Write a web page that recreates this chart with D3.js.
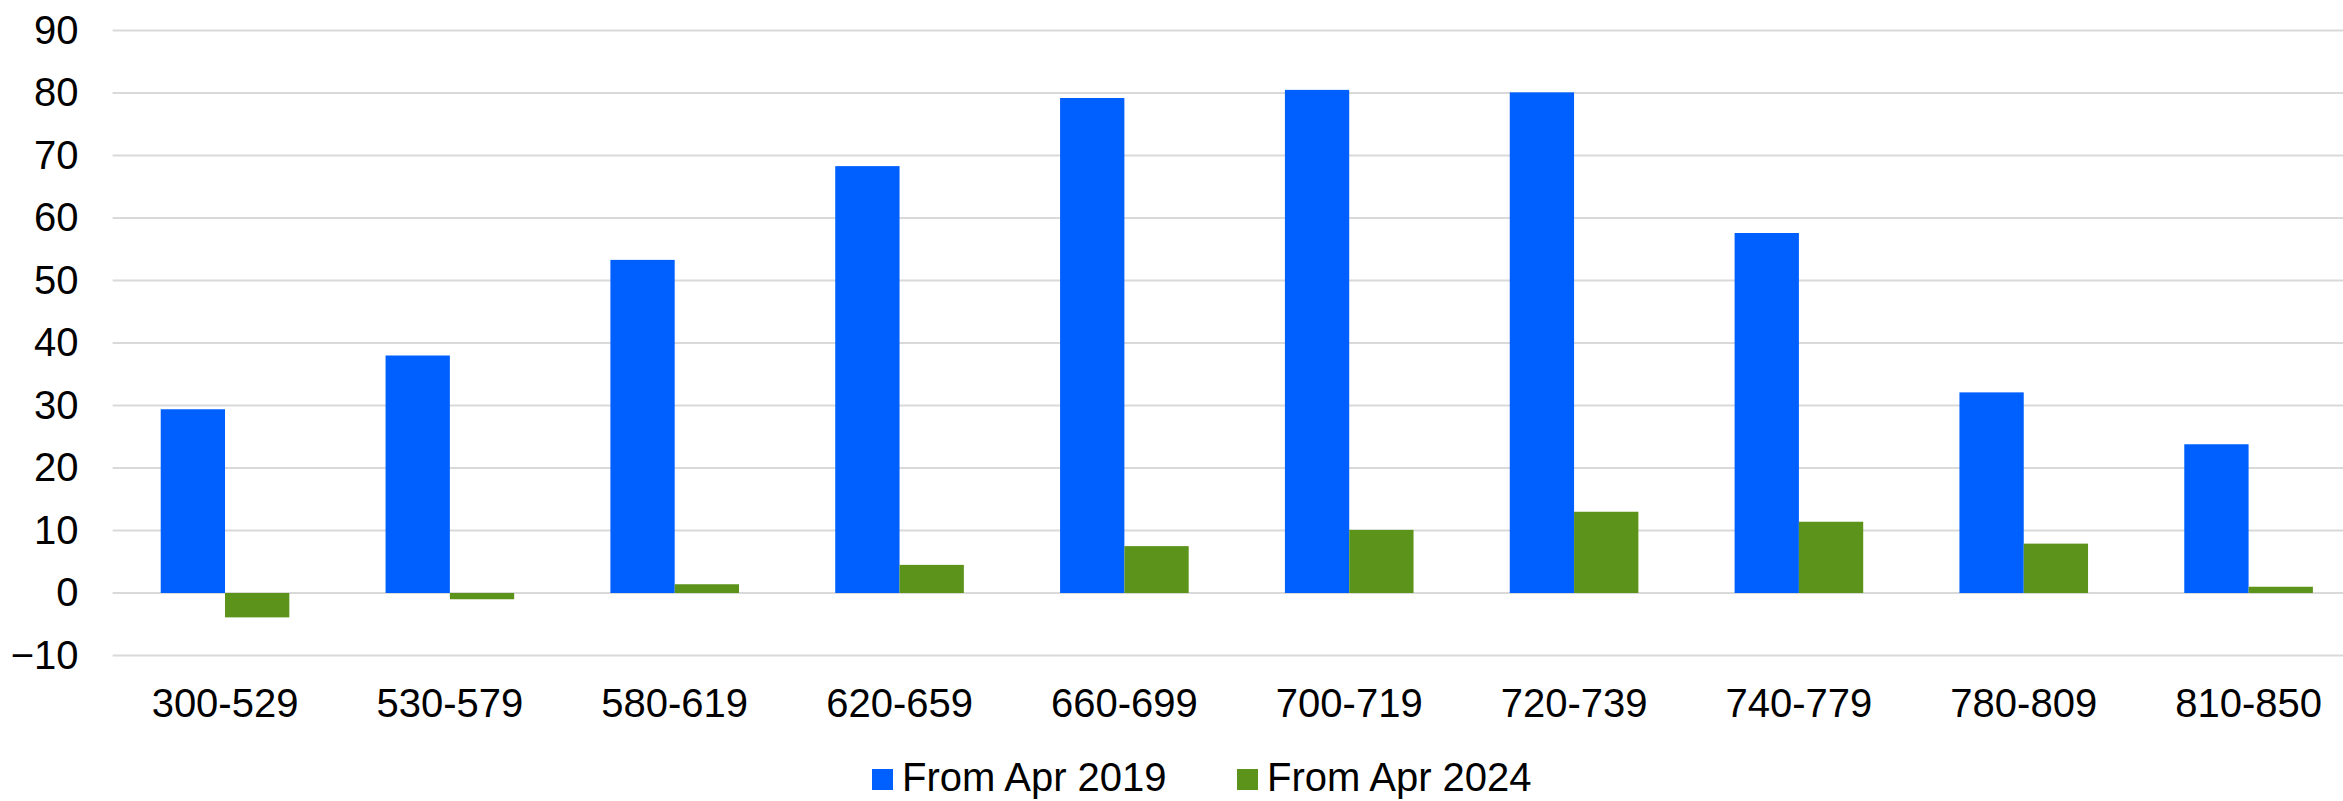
<!DOCTYPE html>
<html>
<head>
<meta charset="utf-8">
<script src="https://cdn.jsdelivr.net/npm/d3@7"></script>
<style>
	body { margin: 0; background: #fff; }
	svg text { font-family: "Liberation Sans", Arial, sans-serif; fill: #000; }
</style>
</head>
<body>
<svg id="chart"></svg>
<script>
// Chart data
const categories = ['300-529', '530-579', '580-619', '620-659', '660-699', '700-719', '720-739', '740-779', '780-809', '810-850'];
const seriesNames = ['From Apr 2019', 'From Apr 2024'];
const from2019 = [29.4, 38.0, 53.3, 68.3, 79.2, 80.5, 80.1, 57.6, 32.1, 23.8];
const from2024 = [-3.9, -1.0, 1.4, 4.5, 7.5, 10.1, 13.0, 11.4, 7.9, 1.0];
const yTicks = [-10, 0, 10, 20, 30, 40, 50, 60, 70, 80, 90];
const colors = ['#005fff', '#5c931b'];

const width = 2343, height = 801;
let svg = d3.select('#chart')
	.attr('width', width)
	.attr('height', height);

// plot area runs a bit past the right edge, like the original
const plotLeft = 112.6, plotRight = 2361, plotTop = 30.5, plotBottom = 655.5;

let x0 = d3.scaleBand()
	.domain(categories)
	.range([plotLeft, plotRight])
	.paddingInner(0.428)
	.paddingOuter(0.214);

let x1 = d3.scaleBand()
	.domain(seriesNames)
	.range([0, x0.bandwidth()]);

let y = d3.scaleLinear()
	.domain([-10, 90])
	.range([plotBottom, plotTop]);

// gridlines
svg.append('g')
	.selectAll('line')
	.data(yTicks)
	.enter()
	.append('line')
	.attr('x1', plotLeft)
	.attr('x2', width)
	.attr('y1', (d) => y(d))
	.attr('y2', (d) => y(d))
	.attr('stroke', '#d9d9d9')
	.attr('stroke-width', 2);

// y axis labels
let yAxis = svg.append('g')
	.attr('transform', `translate(${plotLeft - 34},0)`)
	.call(d3.axisLeft(y).tickValues(yTicks).tickSize(0).tickPadding(0));
yAxis.select('.domain').remove();
yAxis.selectAll('text')
	.attr('font-size', 40)
	.attr('font-family', '"Liberation Sans", Arial, sans-serif')
	.attr('fill', '#000');

// bars
const rows = categories.map((c, i) => ({ cat: c, values: [from2019[i], from2024[i]] }));
let groups = svg.append('g')
	.selectAll('g')
	.data(rows)
	.enter()
	.append('g')
	.attr('transform', (d) => `translate(${x0(d.cat)},0)`);

groups.selectAll('rect')
	.data((d) => d.values.map((v, k) => ({ key: seriesNames[k], v: v, k: k })))
	.enter()
	.append('rect')
	.attr('x', (d) => x1(d.key))
	.attr('width', x1.bandwidth())
	.attr('y', (d) => y(Math.max(0, d.v)))
	.attr('height', (d) => Math.abs(y(d.v) - y(0)))
	.attr('fill', (d) => colors[d.k]);

// x axis labels
let xAxis = svg.append('g')
	.attr('transform', `translate(0,${plotBottom})`)
	.call(d3.axisBottom(x0).tickSize(0).tickPadding(0));
xAxis.select('.domain').remove();
xAxis.selectAll('text')
	.attr('dy', null)
	.attr('y', 61)
	.attr('font-size', 40)
	.attr('font-family', '"Liberation Sans", Arial, sans-serif')
	.attr('fill', '#000');

// legend
const legendX = [872, 1237];
let legend = svg.append('g')
	.selectAll('g')
	.data(seriesNames)
	.enter()
	.append('g')
	.attr('transform', (d, i) => `translate(${legendX[i]},769)`);
legend.append('rect')
	.attr('width', 21)
	.attr('height', 21)
	.attr('fill', (d, i) => colors[i]);
legend.append('text')
	.attr('x', 30)
	.attr('y', 22)
	.attr('font-size', 40)
	.text((d) => d);
</script>
</body>
</html>
